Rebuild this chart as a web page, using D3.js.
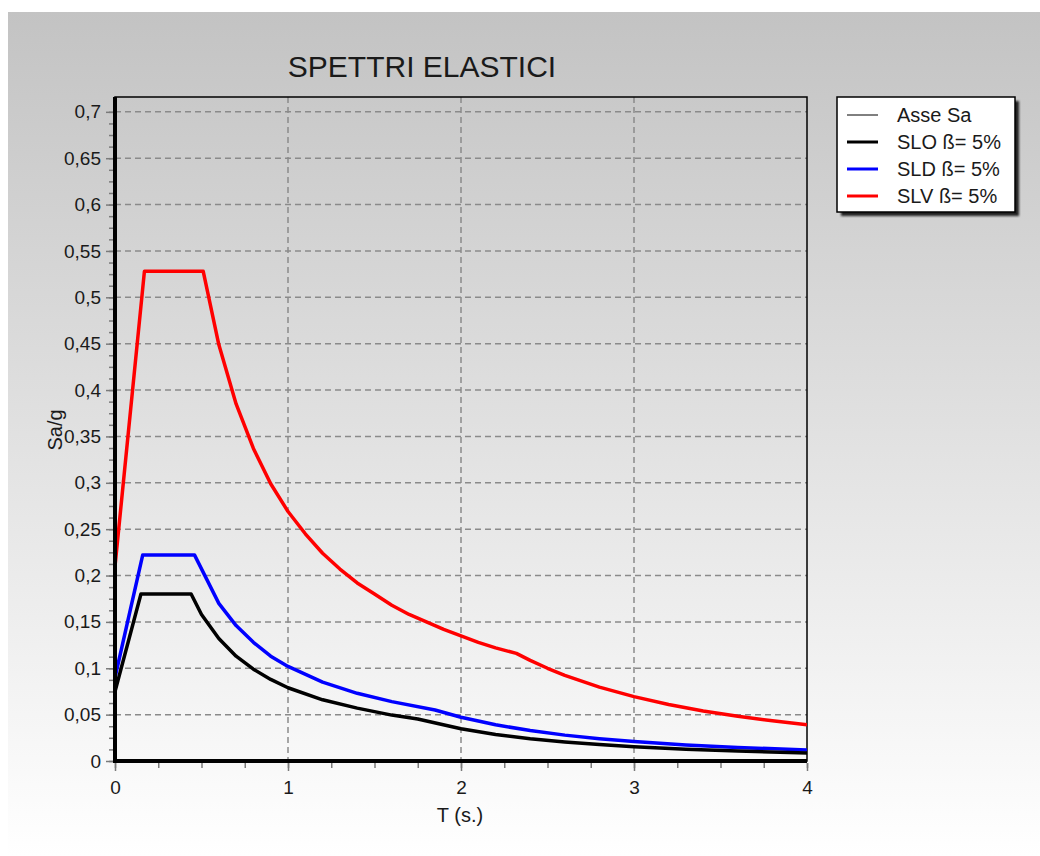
<!DOCTYPE html>
<meta charset="utf-8">
<style>
body { margin: 0; background: #fff; font-family: "Liberation Sans", Arial, sans-serif; }
.grid line { stroke: #8a8a8a; stroke-width: 1.5; stroke-dasharray: 6,4; }
.axis text { font-size: 19px; fill: #1a1a1a; }
.axis .tick line { stroke: #7a7a7a; stroke-width: 1.5; }
.axis path { display: none; }
</style>
<body>
<svg width="1040" height="856"></svg>
<script src="https://d3js.org/d3.v7.min.js"></script>
<script>
// values: period T (s) and Sa/g
var sloT  = [0, 0.15, 0.44, 0.5, 0.6, 0.7, 0.8, 0.9, 1.0, 1.2, 1.4, 1.6, 1.75, 2.0, 2.2, 2.4, 2.6, 2.8, 3.0, 3.3, 3.6, 4.0];
var sloSa = [0.075, 0.18, 0.18, 0.158, 0.132, 0.113, 0.099, 0.088, 0.079, 0.066, 0.057, 0.0495, 0.0453, 0.0347, 0.0286, 0.0241, 0.0205, 0.0177, 0.0154, 0.0127, 0.0107, 0.0087];

var sldT  = [0, 0.16, 0.46, 0.6, 0.7, 0.8, 0.9, 1.0, 1.2, 1.4, 1.6, 1.85, 2.0, 2.2, 2.4, 2.6, 2.8, 3.0, 3.3, 3.6, 4.0];
var sldSa = [0.09, 0.222, 0.222, 0.170, 0.146, 0.128, 0.113, 0.102, 0.085, 0.073, 0.064, 0.055, 0.0472, 0.039, 0.0328, 0.0279, 0.0241, 0.021, 0.0173, 0.0146, 0.0118];

var slvT  = [0, 0.17, 0.51, 0.6, 0.7, 0.8, 0.9, 1.0, 1.1, 1.2, 1.3, 1.4, 1.5, 1.6, 1.7, 1.8, 1.9, 2.0, 2.1, 2.2, 2.32, 2.4, 2.5, 2.6, 2.8, 3.0, 3.2, 3.4, 3.6, 3.8, 4.0];
var slvSa = [0.21, 0.528, 0.528, 0.449, 0.385, 0.337, 0.299, 0.269, 0.245, 0.224, 0.207, 0.192, 0.180, 0.168, 0.158, 0.150, 0.142, 0.135, 0.128, 0.122, 0.116, 0.1085, 0.100, 0.0924, 0.0797, 0.0694, 0.061, 0.054, 0.0482, 0.0433, 0.039];

var yTicks = [0, 0.05, 0.1, 0.15, 0.2, 0.25, 0.3, 0.35, 0.4, 0.45, 0.5, 0.55, 0.6, 0.65, 0.7];
var xTicks = [0, 1, 2, 3, 4];
var legendNames = ["Asse Sa", "SLO ß= 5%", "SLD ß= 5%", "SLV ß= 5%"];
var legendColors = ["#000", "#000", "#0000ff", "#ff0000"];
var legendWidths = [1, 3, 3, 3];

var svg = d3.select("svg");
var margin = {left: 115, top: 97, right: 807, bottom: 761};

var defs = svg.append("defs");
var grad = defs.append("linearGradient").attr("id", "bg")
    .attr("x1", 0).attr("y1", 0).attr("x2", 0).attr("y2", 1);
grad.append("stop").attr("offset", "0%").attr("stop-color", "#c3c3c3");
grad.append("stop").attr("offset", "100%").attr("stop-color", "#ffffff");
defs.append("clipPath").attr("id", "clip").append("rect")
    .attr("x", margin.left).attr("y", margin.top)
    .attr("width", margin.right - margin.left).attr("height", margin.bottom - margin.top);
var shadow = defs.append("filter").attr("id", "shadow");
shadow.append("feGaussianBlur").attr("stdDeviation", 1.2);

// panel background
svg.append("rect").attr("x", 8).attr("y", 12).attr("width", 1032).attr("height", 844)
    .attr("fill", "url(#bg)");

var x = d3.scaleLinear().domain([0, 4]).range([margin.left, margin.right]);
var y = d3.scaleLinear().domain([0, 0.716]).range([margin.bottom, margin.top]);

var loc = d3.formatLocale({decimal: ",", thousands: ".", grouping: [3], currency: ["", "€"]});
var fmt = function(d) { return d === 0 ? "0" : loc.format("~g")(d); };

// grid
svg.append("g").attr("class", "grid")
  .selectAll("line").data(yTicks.slice(1)).enter().append("line")
    .attr("x1", margin.left).attr("x2", margin.right)
    .attr("y1", function(d) { return y(d); }).attr("y2", function(d) { return y(d); });
svg.append("g").attr("class", "grid")
  .selectAll("line").data(xTicks.slice(1, -1)).enter().append("line")
    .attr("y1", margin.top).attr("y2", margin.bottom)
    .attr("x1", function(d) { return x(d); }).attr("x2", function(d) { return x(d); });

// minor ticks
var yMinor = d3.range(0, 0.7001, 0.0125);
svg.append("g").attr("class", "axis")
    .attr("transform", "translate(" + (margin.left - 2) + ",0)")
    .call(d3.axisLeft(y).tickValues(yMinor).tickSize(4).tickFormat(""));
var xMinor = d3.range(0, 4.001, 0.25);
svg.append("g").attr("class", "axis")
    .attr("transform", "translate(0," + (margin.bottom + 2) + ")")
    .call(d3.axisBottom(x).tickValues(xMinor).tickSize(5).tickFormat(""));

// major axes
svg.append("g").attr("class", "axis")
    .attr("transform", "translate(" + (margin.left - 2) + ",0)")
    .call(d3.axisLeft(y).tickValues(yTicks).tickSize(7).tickPadding(5).tickFormat(fmt));
svg.append("g").attr("class", "axis")
    .attr("transform", "translate(0," + (margin.bottom + 2) + ")")
    .call(d3.axisBottom(x).tickValues(xTicks).tickSize(8).tickPadding(10).tickFormat(fmt));

// frame
svg.append("rect").attr("x", margin.left).attr("y", margin.top)
    .attr("width", margin.right - margin.left).attr("height", margin.bottom - margin.top)
    .attr("fill", "none").attr("stroke", "#000").attr("stroke-width", 1.5);

// series
var line = d3.line().x(function(d) { return x(d[0]); }).y(function(d) { return y(d[1]); });
var plot = svg.append("g").attr("clip-path", "url(#clip)");
function series(t, sa, color) {
  plot.append("path").datum(d3.zip(t, sa))
      .attr("fill", "none").attr("stroke", color).attr("stroke-width", 3.5)
      .attr("stroke-linejoin", "round")
      .attr("d", line);
}
series(slvT, slvSa, "#ff0000");
series(sldT, sldSa, "#0000ff");
series(sloT, sloSa, "#000000");

// Asse Sa + thick axes
svg.append("line").attr("x1", x(0)).attr("x2", x(0)).attr("y1", y(0)).attr("y2", margin.top)
    .attr("stroke", "#000").attr("stroke-width", 4);
svg.append("line").attr("x1", x(0) - 2).attr("x2", x(4)).attr("y1", y(0)).attr("y2", y(0))
    .attr("stroke", "#000").attr("stroke-width", 4);

// title and labels
svg.append("text").attr("x", 422).attr("y", 77).attr("text-anchor", "middle")
    .style("font-size", "30px").style("fill", "#1a1a1a").text("SPETTRI ELASTICI");
svg.append("text").attr("x", 460).attr("y", 822).attr("text-anchor", "middle")
    .style("font-size", "20px").style("fill", "#1a1a1a").text("T (s.)");
svg.append("text").attr("transform", "translate(62,430) rotate(-90)").attr("text-anchor", "middle")
    .style("font-size", "20px").style("fill", "#1a1a1a").text("Sa/g");

// legend
var lg = svg.append("g");
lg.append("rect").attr("x", 841).attr("y", 101).attr("width", 178).attr("height", 115)
    .attr("fill", "#222").attr("filter", "url(#shadow)");
lg.append("rect").attr("x", 837).attr("y", 97).attr("width", 178).attr("height", 115)
    .attr("fill", "#fff").attr("stroke", "#000").attr("stroke-width", 1.5);
var rows = lg.selectAll("g.row").data(legendNames).enter().append("g")
    .attr("transform", function(d, i) { return "translate(0," + (115 + i * 27) + ")"; });
rows.append("line").attr("x1", 847).attr("x2", 878).attr("y1", 0).attr("y2", 0)
    .attr("stroke", function(d, i) { return legendColors[i]; })
    .attr("stroke-width", function(d, i) { return legendWidths[i]; });
rows.append("text").attr("x", 897).attr("y", 7).style("font-size", "20px")
    .style("fill", "#1a1a1a").text(function(d) { return d; });
</script>
</body>
